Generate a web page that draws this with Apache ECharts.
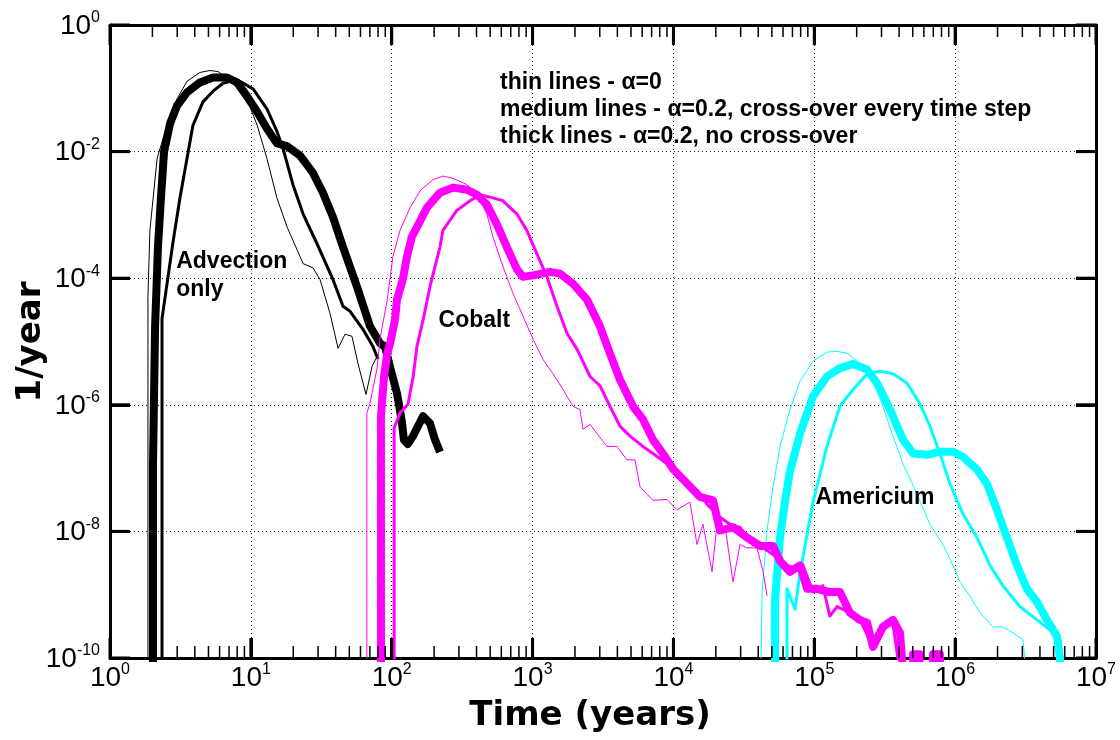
<!DOCTYPE html>
<html>
<head>
<meta charset="utf-8">
<script src="https://cdn.jsdelivr.net/npm/echarts/dist/echarts.min.js"></script>
<style>
html,body{margin:0;padding:0;background:#fff;}
#chart{width:1120px;height:740px;}
</style>
</head>
<body>
<div id="chart"></div>
<script>
// ---------------- DATA (x: time in years, y: 1/year) ----------------
// Advection only (black)
const advThin = [
  [1.86,1e-11],[1.86,5.2e-5],[1.92,5.7e-4],[2.16,7.8e-3],[2.54,2.6e-2],[2.99,6.8e-2],
  [3.52,0.129],[4.35,0.178],[5.13,0.191],[5.84,0.184],[7.46,0.124],[9.86,0.051],
  [11.1,0.0259],[13.0,7.8e-3],[15.3,1.86e-3],[18.1,6.4e-4],[21.3,2.8e-4],[23.5,1.7e-4],
  [27.6,1.46e-4],[31.0,9.5e-5],[36.5,2.76e-5],[41.6,7.8e-6],[46.6,1.3e-5],[52.2,1.21e-5],
  [57.6,4.5e-6],[65.7,1.46e-6],[72.4,4.0e-6],[79.9,6.2e-6]
];
const advMedium = [
  [2.34,1e-11],[2.34,2.3e-5],[2.80,3.7e-4],[3.14,1.86e-3],[3.52,7.8e-3],[3.88,2.6e-2],
  [4.57,6.1e-2],[5.39,9.0e-2],[6.34,0.12],[7.46,0.133],[8.37,0.129],[10.4,0.097],
  [13.0,0.0474],[15.3,0.021],[16.9,0.0113],[19.9,3.0e-3],[23.5,1.03e-3],[29.5,3.5e-4],
  [38.3,9.5e-5],[45.1,3.6e-5],[50.6,3.0e-5],[62.5,1.56e-5],[73.6,8.3e-6],[79.9,5.3e-6]
];
const advThick = [
  [2.02,1e-11],[2.02,1.17e-7],[2.09,1.74e-5],[2.19,3.1e-4],[2.30,1.86e-3],[2.42,1.0e-2],
  [2.67,0.0278],[2.99,0.053],[3.52,0.086],[4.35,0.124],[5.39,0.148],[6.77,0.148],
  [7.97,0.124],[9.39,0.075],[11.1,0.0424],[13.0,0.0231],[15.3,0.0136],[18.1,0.0121],
  [22.3,8.7e-3],[27.6,4.6e-3],[32.5,2.24e-3],[38.3,9.2e-4],[45.1,3.1e-4],[56.7,7.3e-5],
  [70.1,1.74e-5],[82.6,9.4e-6],[89.6,8.3e-6],[97.2,4.0e-6],[109,1.52e-6],[118,5.5e-7],
  [122,2.8e-7],[130,2.4e-7],[141.5,3.2e-7],[167,6.6e-7],[187,5.1e-7],[203,2.8e-7],[220,1.8e-7]
];
// Cobalt (magenta)
const coThin = [
  [66.6,1e-11],[66.6,7.4e-7],[70,1.05e-6],[78.6,3.7e-6],[82.5,1.08e-5],[93,4.6e-5],
  [102,2.2e-4],[114.5,5.7e-4],[135,1.3e-3],[159,2.4e-3],[196,3.6e-3],[231,4.1e-3],
  [272,3.8e-3],[343,3.0e-3],[403,2.08e-3],[474,1.03e-3],[523,4.5e-4],[616,1.53e-4],
  [727,5.7e-5],[856,2.5e-5],[1010,1.08e-5],[1185,5.2e-6],[1395,3.1e-6],[1640,1.76e-6],
  [1935,9.5e-7],[2170,8.4e-7],[2280,4.1e-7],[2560,4.9e-7],[2870,3.5e-7],[3370,2.2e-7],
  [3970,2.2e-7],[4680,1.35e-7],[5330,1.35e-7],[5800,5.0e-8],[7160,3.1e-8],[9000,3.2e-8],
  [10600,2.2e-8],[13100,2.9e-8],[14700,6.2e-9],[16200,1.3e-8],[18800,2.3e-9],[20400,1.3e-8],
  [23300,1.16e-8],[26500,1.6e-9],[29700,6.2e-9],[33300,5.5e-9],[39200,5.5e-9],[43300,2.3e-9],
  [46200,9.6e-10]
];
const coMedium = [
  [104,1e-11],[104,4.3e-7],[114.5,7.4e-7],[130.5,1.02e-6],[142,2.8e-6],[151,8.3e-6],
  [167,2.2e-5],[187,7.4e-5],[220,3.1e-4],[231,5.7e-4],[290,1.18e-3],[360,1.67e-3],
  [424,2.08e-3],[523,1.86e-3],[616,1.67e-3],[775,1.03e-3],[910,5.7e-4],[1075,2.4e-4],
  [1265,1.05e-4],[1490,3.6e-5],[1755,1.35e-5],[2070,7.5e-6],[2560,2.8e-6],[3010,2.0e-6],
  [3540,9.5e-7],[4170,4.6e-7],[4920,3.2e-7],[6070,2.2e-7],[7160,1.7e-7],[9000,1.17e-7],
  [10600,7.3e-8],[12500,5.7e-8],[14700,4.5e-8],[17300,2.7e-8],[21400,1.67e-8],[25200,1.3e-8],
  [29700,1.16e-8],[36800,6.2e-9],[43300,5.5e-9],[50900,4.3e-9],[64000,2.9e-9],[75500,2.6e-9],
  [83200,2.9e-9],[98000,1.1e-9],[115000,1.39e-9],[129000,4.6e-10],[145000,6.5e-10],
  [179000,5.2e-10],[211000,4.0e-10],[261000,1.5e-10],[307000,3.1e-10],[362000,3.4e-10],
  [455000,1e-11]
];
const coThick = [
  [83.9,1e-11],[83.9,6.6e-7],[88.2,2.8e-6],[93,6.5e-6],[97.5,9.4e-6],[105.5,2.2e-5],
  [109,4.6e-5],[120,9.6e-5],[128.4,2.2e-4],[139,4.5e-4],[151,6.4e-4],[178,1.3e-3],
  [220,2.24e-3],[272,2.7e-3],[343,2.5e-3],[403,2.08e-3],[474,1.45e-3],[558,7.1e-4],
  [657,3.1e-4],[775,1.38e-4],[856,1.05e-4],[1075,1.14e-4],[1330,1.26e-4],[1565,1.18e-4],
  [1935,8.2e-5],[2430,4.6e-5],[3010,1.74e-5],[3540,6.5e-6],[4170,2.5e-6],[5160,9.5e-7],
  [6070,5.9e-7],[7160,2.8e-7],[8420,1.7e-7],[10000,9.5e-8],[12500,5.7e-8],[15450,3.5e-8],
  [19100,3.1e-8],[21400,1.04e-8],[26500,1.16e-8],[33300,8.0e-9],[41200,5.9e-9],[50900,5.9e-9],
  [57100,3.4e-9],[67100,2.3e-9],[79200,2.9e-9],[89000,1.24e-9],[104500,1.24e-9],[129000,1.1e-9],
  [152000,1.1e-9],[179000,5.2e-10],[211000,4.0e-10],[237000,3.6e-10],[261000,1.5e-10],
  [307000,3.1e-10],[362000,4.0e-10],[406000,2.5e-10],[455000,1e-11],
  [503000,1e-11],[503000,1.15e-10],[560000,1.15e-10],[560000,1e-11],
  [697000,1e-11],[697000,1.15e-10],[780000,1.15e-10],[780000,1e-11]
];
// Americium (cyan)
const amThin = [
  [41200,1e-11],[42600,1.1e-9],[46200,1.04e-8],[50900,5.0e-8],[57100,2.2e-7],[67100,8.4e-7],
  [79200,2.35e-6],[98000,4.9e-6],[123000,6.8e-6],[145000,7.0e-6],[171000,6.5e-6],
  [211000,4.5e-6],[261000,2.5e-6],[307000,9.5e-7],[362000,3.2e-7],[427000,1.17e-7],
  [536000,3.9e-8],[662000,1.3e-8],[818000,6.2e-9],[965000,2.9e-9],[1.08e6,1.6e-9],
  [1.27e6,9.6e-10],[1.5e6,5.2e-10],[1.855e6,3.1e-10],[2.18e6,3.1e-10],[2.57e6,2.5e-10],
  [3.03e6,1.95e-10],[3.4e6,1e-11]
];
const amMedium = [
  [64000,1e-11],[64000,1.24e-9],[73000,5.9e-10],[79200,2.2e-9],[98000,2.9e-8],[123000,2.2e-7],
  [152000,9.5e-7],[188000,1.73e-6],[237000,3.06e-6],[293000,3.4e-6],[362000,3.1e-6],
  [455000,2.2e-6],[560000,1.06e-6],[662000,4.6e-7],[780000,1.7e-7],[917000,5.7e-8],
  [1.14e6,1.86e-8],[1.43e6,8.0e-9],[1.77e6,2.9e-9],[2.18e6,1.39e-9],[2.88e6,6.5e-10],
  [3.81e6,4.0e-10],[4.7e6,2.8e-10],[5.54e6,1.95e-10],[6.53e6,1e-11]
];
const amThick = [
  [52700,1e-11],[52700,8.6e-10],[57100,8.0e-9],[61900,2.9e-8],[67100,8.8e-8],[79200,3.5e-7],
  [98000,1.37e-6],[123000,2.8e-6],[152000,3.8e-6],[188000,4.4e-6],[237000,3.6e-6],
  [279000,2.2e-6],[345000,8.4e-7],[427000,2.8e-7],[503000,1.7e-7],[631000,1.62e-7],
  [780000,1.82e-7],[965000,1.82e-7],[1.14e6,1.5e-7],[1.43e6,9.5e-8],[1.68e6,5.7e-8],
  [1.98e6,2.2e-8],[2.33e6,8.0e-9],[2.75e6,2.9e-9],[3.23e6,1.24e-9],[3.81e6,7.7e-10],
  [4.48e6,4.0e-10],[5.29e6,2.2e-10],[6.32e6,1e-11]
];
// axis ranges, tick exponents and minor tick multipliers (per decade)
const xRange = [1, 1e7];
const yRange = [1e-10, 1];
const xMajorExponents = [0,1,2,3,4,5,6,7];
const yMajorExponents = [-10,-8,-6,-4,-2,0];
const xMinorMultipliers = [2,3,4,5,6,7,8,9];
// texts
const legendLines = [
  'thin lines - \u03b1=0',
  'medium lines - \u03b1=0.2, cross-over every time step',
  'thick lines - \u03b1=0.2, no cross-over'
];
const annotations = [
  {text:'Advection', x:2.95, y:1.8e-4},
  {text:'only', x:2.95, y:6.5e-5},
  {text:'Cobalt', x:215, y:2.1e-5},
  {text:'Americium', x:1.02e5, y:3.4e-8}
];

// ---------------- CHART ----------------
const BLACK = '#000000', MAGENTA = '#ff00ff', CYAN = '#00ffff';
const chart = echarts.init(document.getElementById('chart'), null, {renderer:'canvas'});

function expLabel(v){
  const e = Math.round(Math.log10(v));
  return '{b|10}{s|' + e + '}';
}
const labelRich = {
  b:{fontFamily:'Liberation Sans, Arial, sans-serif', fontSize:28, color:'#000', verticalAlign:'bottom', lineHeight:30},
  s:{fontFamily:'Liberation Sans, Arial, sans-serif', fontSize:16, color:'#000', verticalAlign:'top', lineHeight:14}
};
const splitStyle = {show:true, lineStyle:{color:'#222', width:1, type:[1,3]}};
const axisLineStyle = {show:true, onZero:false, lineStyle:{color:'#000', width:3}};
const majorTick = {show:true, inside:true, length:20, lineStyle:{color:'#000', width:3}};

function lineSeries(name, data, color, width, z){
  return {
    name, type:'line', data, xAxisIndex:0, yAxisIndex:0,
    showSymbol:false, symbol:'none', silent:true, clip:true, z,
    lineStyle:{color, width, join:'round', cap:'butt'},
    itemStyle:{color}, emphasis:{disabled:true}
  };
}

// tick mark positions (axis structure): [x, y, kind]
const tickData = [];
xMajorExponents.forEach(function(e){ tickData.push([Math.pow(10,e), 1e-5, 0]); });
xMajorExponents.slice(0,-1).forEach(function(e){ xMinorMultipliers.forEach(function(m){ tickData.push([m*Math.pow(10,e), 1e-5, 1]); }); });
yMajorExponents.forEach(function(e){ tickData.push([10, Math.pow(10,e), 2]); });

const textFont = 'bold 23px "Liberation Sans", Arial, sans-serif';
const graphics = [];
legendLines.forEach(function(t, i){
  graphics.push({type:'text', x:500, y:83 + i*27, z:50,
    style:{text:t, font:textFont, fill:'#000', textAlign:'left', textVerticalAlign:'middle', align:'left', verticalAlign:'middle'}});
});
graphics.push({type:'text', x:31, y:342, rotation:Math.PI/2, z:50,
  style:{text:'1/year', font:'bold 34px "DejaVu Sans", sans-serif', fill:'#000', textAlign:'center', textVerticalAlign:'middle', align:'center', verticalAlign:'middle'}});
graphics.push({type:'text', x:590, y:716, z:50,
  style:{text:'Time (years)', font:'bold 34px "DejaVu Sans", sans-serif', fill:'#000', textAlign:'center', textVerticalAlign:'middle', align:'center', verticalAlign:'middle'}});

const option = {
  animation:false,
  backgroundColor:'#ffffff',
  grid:{left:110, right:24, top:25, bottom:82, containLabel:false},
  xAxis:[
    {type:'log', logBase:10, min:xRange[0], max:xRange[1], splitNumber:7, interval:1, position:'bottom',
     axisLine:axisLineStyle, axisTick:majorTick, splitLine:splitStyle, minorTick:{show:false},
     axisLabel:{show:true, margin:4, formatter:expLabel, rich:labelRich}},
    {type:'log', logBase:10, min:xRange[0], max:xRange[1], splitNumber:7, interval:1, position:'top',
     axisLine:axisLineStyle, axisTick:majorTick, splitLine:{show:false}, axisLabel:{show:false}}
  ],
  yAxis:[
    {type:'log', logBase:10, min:yRange[0], max:yRange[1], splitNumber:5, interval:2, position:'left',
     axisLine:axisLineStyle, axisTick:majorTick, splitLine:splitStyle, minorTick:{show:false},
     axisLabel:{show:true, margin:10, formatter:expLabel, rich:labelRich}},
    {type:'log', logBase:10, min:yRange[0], max:yRange[1], splitNumber:5, interval:2, position:'right',
     axisLine:axisLineStyle, axisTick:majorTick, splitLine:{show:false}, axisLabel:{show:false}}
  ],
  series:[
    lineSeries('Am thick', amThick, CYAN, 8, 2),
    lineSeries('Am medium', amMedium, CYAN, 3, 2),
    lineSeries('Am thin', amThin, CYAN, 1, 2),
    lineSeries('Adv thick', advThick, BLACK, 8, 3),
    lineSeries('Adv medium', advMedium, BLACK, 3, 3),
    lineSeries('Adv thin', advThin, BLACK, 1, 3),
    lineSeries('Co thick', coThick, MAGENTA, 8, 4),
    lineSeries('Co medium', coMedium, MAGENTA, 3, 4),
    lineSeries('Co thin', coThin, MAGENTA, 1, 4),
    {type:'custom', name:'ticks', xAxisIndex:0, yAxisIndex:0, silent:true, clip:false, z:10,
     data:tickData,
     renderItem:function(params, api){
       const kind = api.value(2);
       const top = api.coord([xRange[0], yRange[1]])[1];
       const bot = api.coord([xRange[0], yRange[0]])[1];
       const left = api.coord([xRange[0], yRange[0]])[0];
       const right = api.coord([xRange[1], yRange[0]])[0];
       if (kind === 2) {
         const y = api.coord([xRange[0], api.value(1)])[1];
         return {type:'group', children:[
           {type:'line', shape:{x1:left, y1:y, x2:left+20, y2:y}, style:{stroke:'#000', lineWidth:3}},
           {type:'line', shape:{x1:right, y1:y, x2:right-20, y2:y}, style:{stroke:'#000', lineWidth:3}}
         ]};
       }
       const x = api.coord([api.value(0), yRange[1]])[0];
       const len = kind === 0 ? 20 : 12;
       const w = kind === 0 ? 3 : 1.5;
       return {type:'group', children:[
         {type:'line', shape:{x1:x, y1:bot, x2:x, y2:bot-len}, style:{stroke:'#000', lineWidth:w}},
         {type:'line', shape:{x1:x, y1:top, x2:x, y2:top+len}, style:{stroke:'#000', lineWidth:w}}
       ]};
     }},
    {type:'custom', name:'annotations', xAxisIndex:0, yAxisIndex:0, silent:true, clip:false, z:20,
     data:annotations.map(function(a){ return [a.x, a.y]; }),
     renderItem:function(params, api){
       const p = api.coord([api.value(0), api.value(1)]);
       return {type:'text', x:p[0], y:p[1],
         style:{text:annotations[params.dataIndex].text, font:textFont, fill:'#000', textAlign:'left', textVerticalAlign:'middle', align:'left', verticalAlign:'middle'}};
     }}
  ],
  graphic:graphics
};
chart.setOption(option);
</script>
</body>
</html>
